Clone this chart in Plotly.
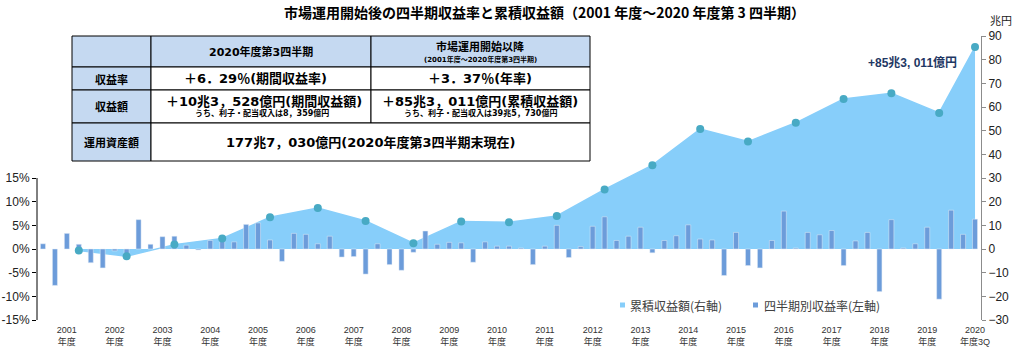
import plotly.graph_objects as go

# ---------------- data ----------------
years = list(range(2001, 2021))
quarters = [f"{y}Q{q}" for y in years for q in (1, 2, 3, 4)][:79]

quarterly_return = [
    1.1, -7.7, 3.3, 1.0,     # 2001
    -2.9, -4.0, -0.4, -1.3,  # 2002
    6.2, 1.0, 2.6, 2.7,      # 2003
    0.8, -0.2, 1.8, 2.2,     # 2004
    1.5, 5.2, 5.5, 1.9,      # 2005
    -2.6, 3.3, 3.1, 1.1,     # 2006
    2.7, -1.7, -1.6, -5.3,   # 2007
    1.1, -3.3, -4.5, -0.7,   # 2008
    3.8, 1.0, 1.4, 1.3,      # 2009
    -2.8, 1.5, 0.6, 0.6,     # 2010
    0.2, -3.3, 0.6, 5.0,     # 2011
    -1.8, 0.5, 4.8, 6.8,     # 2012
    1.8, 2.7, 4.6, -0.8,     # 2013
    1.8, 2.8, 5.1, 2.1,      # 2014
    1.9, -5.6, 3.5, -3.5,    # 2015
    -4.0, 1.8, 8.0, 0.2,     # 2016
    3.5, 3.0, 3.9, -3.5,     # 2017
    1.7, 3.5, -9.0, 6.2,     # 2018
    0.2, 1.1, 4.6, -10.6,    # 2019
    8.2, 3.1, 6.3,           # 2020
]

cum_points = [f"{y}Q4" for y in range(2001, 2020)] + ["2020Q3"]
cumulative = [-0.59, -3.04, 1.85, 4.46, 13.42, 17.33, 11.81, 2.47, 11.65, 11.35,
              13.96, 25.18, 35.40, 50.70, 45.39, 53.32, 63.40, 65.78, 57.50, 85.30]

tick_vals = [f"{y}Q3" for y in years]
tick_text = [f"{y}<br>年度" for y in range(2001, 2020)] + ["2020<br>年度3Q"]

left_ticks = [-15, -10, -5, 0, 5, 10, 15]
left_text = ["-15%", "-10%", "-5%", "0%", "5%", "10%", "15%"]

# ---------------- styling ----------------
BAR = "rgb(108,156,218)"
AREA = "rgb(135,206,250)"
MARK = "rgb(72,170,196)"
HDR = "rgb(197,217,241)"
JP = "Noto Sans CJK JP"
TBL = "DejaVu Sans, Noto Sans CJK JP"
NUM = "Liberation Sans Narrow, Liberation Sans, Noto Sans CJK JP"

W, H = 1024, 351
ML, MR, MT, MB = 37, 43, 36, 31
PW, PH = W - ML - MR, H - MT - MB


def fx(p):
    return (p - ML) / PW


def fy(p):
    return (H - MB - p) / PH


fig = go.Figure()

fig.add_trace(go.Scatter(
    x=cum_points, y=cumulative, yaxis="y", mode="lines",
    fill="tozeroy", fillcolor=AREA, line=dict(color=AREA, width=1.5),
    hoverinfo="skip", showlegend=False))

fig.add_trace(go.Bar(
    x=quarters, y=quarterly_return, yaxis="y2", marker_color=BAR,
    width=0.42, showlegend=False))

fig.add_trace(go.Scatter(
    x=cum_points, y=cumulative, yaxis="y3", mode="markers",
    marker=dict(color=MARK, size=8), showlegend=False))

shapes = []
# left axis line (only -15%..15%)
shapes.append(dict(type="line", xref="paper", yref="y2", x0=0, x1=0, y0=-15, y1=15,
                   line=dict(color="black", width=1)))


def rect(x0, y0, x1, y1, fill):
    shapes.append(dict(type="rect", xref="paper", yref="paper", layer="above",
                       x0=fx(x0), x1=fx(x1), y0=fy(y1), y1=fy(y0),
                       fillcolor=fill, line=dict(color="black", width=1)))


cx = [72, 151, 371, 590]
ry = [36, 67, 90, 123, 161]
for r in range(4):
    if r < 3:
        for c in range(3):
            fill = HDR if (r == 0 or c == 0) else "white"
            rect(cx[c], ry[r], cx[c + 1], ry[r + 1], fill)
    else:
        rect(cx[0], ry[r], cx[1], ry[r + 1], HDR)
        rect(cx[1], ry[r], cx[3], ry[r + 1], "white")

# legend squares
shapes.append(dict(type="rect", xref="paper", yref="paper", x0=fx(620), x1=fx(625),
                   y0=fy(307.5), y1=fy(302.5), fillcolor=AREA, line=dict(width=0)))
shapes.append(dict(type="rect", xref="paper", yref="paper", x0=fx(753), x1=fx(758),
                   y0=fy(307.5), y1=fy(302.5), fillcolor=BAR, line=dict(width=0)))

ann = []


def text(x, y, t, size, color="black", anchor="center", family=JP):
    ann.append(dict(xref="paper", yref="paper", x=fx(x), y=fy(y), text=t,
                    showarrow=False, xanchor=anchor, yanchor="middle",
                    font=dict(family=family, size=size, color=color)))


# title
text(544, 12, "<b>市場運用開始後の四半期収益率と累積収益額（2001 年度～2020 年度第 3 四半期）</b>", 14)

# table text
text(261, 52, "<b>2020年度第3四半期</b>", 11, family=TBL)
text(480, 47, "<b>市場運用開始以降</b>", 11, family=TBL)
text(480, 59, "<b>(2001年度～2020年度第3四半期)</b>", 7, family=TBL)
text(111, 78.5, "<b>収益率</b>", 11)
text(111, 106.5, "<b>収益額</b>", 11)
text(111, 142, "<b>運用資産額</b>", 11)
text(255, 78.5, "<b>＋6．29％(期間収益率)</b>", 13, family=TBL)
text(480, 78.5, "<b>＋3．37％(年率)</b>", 13, family=TBL)
text(264, 101, "<b>＋10兆3，528億円(期間収益額)</b>", 13, family=TBL)
text(262, 113, "<b>うち、利子・配当収入は8，359億円</b>", 8, family=TBL)
text(480, 101, "<b>＋85兆3，011億円(累積収益額)</b>", 13, family=TBL)
text(480, 113, "<b>うち、利子・配当収入は39兆5，730億円</b>", 8, family=TBL)
text(370, 142, "<b>177兆7，030億円(2020年度第3四半期末現在)</b>", 13, family=TBL)

# legend text
text(628, 305, "累積収益額(右軸)", 12, "#404040", "left")
text(762, 305, "四半期別収益率(左軸)", 12, "#404040", "left")

# final value annotation
text(959, 62, "<b>+85兆3, 011億円</b>", 12, "rgb(31,56,100)", "right", NUM)

# right axis unit
text(1001, 20, "兆円", 11, "#222")

fig.update_layout(
    width=W, height=H, margin=dict(l=ML, r=MR, t=MT, b=MB, autoexpand=False),
    paper_bgcolor="white", plot_bgcolor="white",
    shapes=shapes, annotations=ann, bargap=0.5,
    xaxis=dict(type="category", categoryorder="array", categoryarray=quarters,
               range=[-0.5, 78.5], tickvals=tick_vals, ticktext=tick_text,
               showgrid=False, showline=False, zeroline=False, ticks="",
               automargin=False,
               tickfont=dict(family=NUM, size=9, color="#333"), ticklabelstandoff=3),
    yaxis=dict(side="right", range=[-30, 90], dtick=10, showgrid=False,
               zeroline=False, showline=True, linecolor="#8c8c8c", linewidth=1,
               ticks="outside", ticklen=4, tickcolor="#8c8c8c", automargin=False,
               tickfont=dict(family=NUM, size=12, color="#222")),
    yaxis2=dict(side="left", overlaying="y", range=[-15, 45],
                tickvals=left_ticks, ticktext=left_text, showgrid=False,
                zeroline=False, showline=False, ticks="outside", ticklen=4,
                tickcolor="black", automargin=False,
                tickfont=dict(family=NUM, size=12, color="#222")),
    yaxis3=dict(overlaying="y", range=[-30, 90], visible=False),
)

fig.write_html("out.html")
